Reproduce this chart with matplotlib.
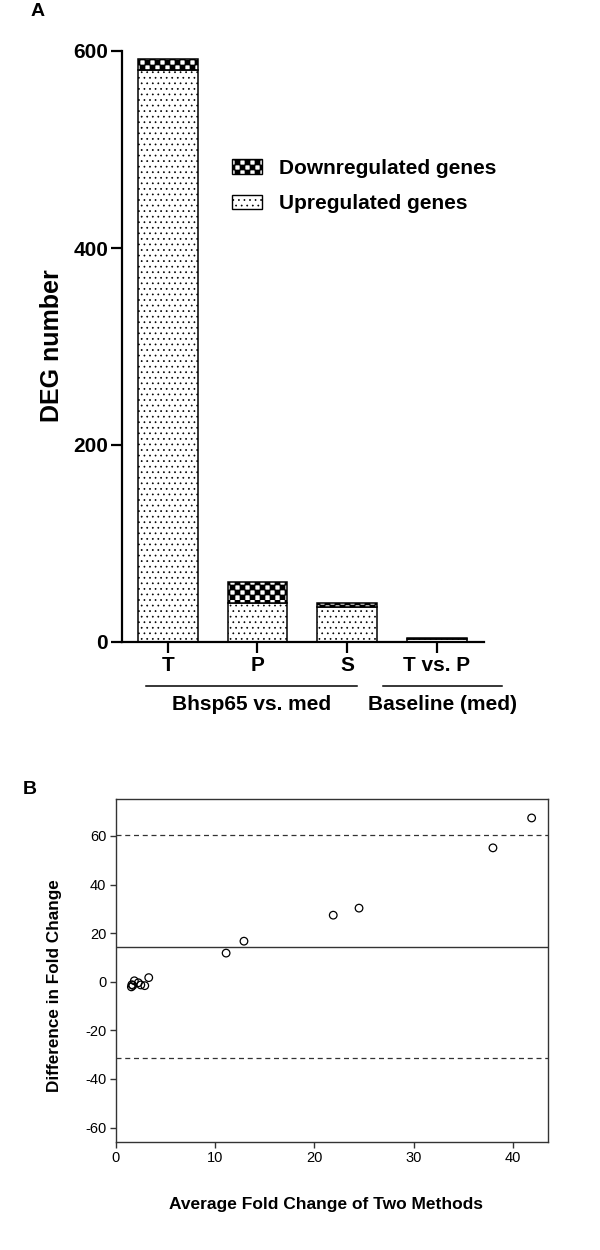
import matplotlib
matplotlib.use("Agg")
import matplotlib.pyplot as plt
import matplotlib.hatch as mhatch
from matplotlib.path import Path
from matplotlib.patches import Patch
from matplotlib.transforms import blended_transform_factory

# ---------------- data ----------------
categories = ["T", "P", "S", "T vs. P"]
upregulated = [581, 40, 36, 3]
downregulated = [11, 21, 4, 1]
group_labels = ["Bhsp65 vs. med", "Baseline (med)"]
panel_a_yticks = [0, 200, 400, 600]

avg_fold_change = [41.9, 38.0, 24.5, 21.9, 12.9, 11.1, 3.3, 1.85, 1.55, 1.6, 2.25, 2.5, 2.9, 1.7]
diff_fold_change = [67.4, 55.1, 30.3, 27.4, 16.7, 11.8, 1.7, 0.4, -2.1, -1.2, -0.4, -1.3, -1.6, -1.5]
mean_diff = 14.5
upper_loa = 60.4
lower_loa = -31.4
panel_b_xticks = [0, 10, 20, 30, 40]
panel_b_yticks = [-60, -40, -20, 0, 20, 40, 60]

# ---------------- custom checkerboard hatch ----------------
class CheckerHatch(mhatch.HatchPatternBase):
    def __init__(self, hatch, density):
        n = hatch.count('x') * 10
        self.n = n
        self.num_squares = sum(1 for i in range(n) for j in range(n) if (i + j) % 2 == 0)
        self.num_vertices = self.num_squares * 5

    def set_vertices_and_codes(self, vertices, codes):
        n = self.n
        s = 1.0 / n
        k = 0
        for i in range(n):
            for j in range(n):
                if (i + j) % 2 == 0:
                    x0, y0 = i * s, j * s
                    vertices[k:k + 5] = [(x0, y0), (x0 + s, y0), (x0 + s, y0 + s), (x0, y0 + s), (x0, y0)]
                    codes[k:k + 5] = [Path.MOVETO, Path.LINETO, Path.LINETO, Path.LINETO, Path.CLOSEPOLY]
                    k += 5


mhatch._hatch_types = [t for t in mhatch._hatch_types
                       if t not in (mhatch.NorthEastHatch, mhatch.SouthEastHatch)] + [CheckerHatch]

plt.rcParams['font.family'] = ['Liberation Sans', 'DejaVu Sans']
plt.rcParams['hatch.linewidth'] = 0.5
plt.rcParams['hatch.color'] = 'black'
plt.rcParams['axes.unicode_minus'] = False

W, H = 600, 1250
fig = plt.figure(figsize=(6, 12.5), dpi=100)

# ---------------- Panel A ----------------
axA = fig.add_axes([122 / W, 1 - 642 / H, (484 - 122) / W, (642 - 51) / H])
x = list(range(len(categories)))
bw = 0.666
axA.bar(x, upregulated, width=bw, color='white', edgecolor='black', linewidth=1.1,
        hatch='...', label='Upregulated genes', zorder=2)
axA.bar(x, downregulated, width=bw, bottom=upregulated, color='white', edgecolor='black',
        linewidth=1.1, hatch='xx', label='Downregulated genes', zorder=2)
axA.set_xlim(-0.512, 3.528)
axA.set_ylim(0, 600)
axA.set_yticks(panel_a_yticks)
axA.set_xticks(x)
axA.set_xticklabels(categories)
for sp in ['top', 'right']:
    axA.spines[sp].set_visible(False)
for sp in ['left', 'bottom']:
    axA.spines[sp].set_linewidth(1.6)
axA.tick_params(axis='both', direction='out', length=8, width=1.6, labelsize=15, pad=2)
for lab in axA.get_xticklabels() + axA.get_yticklabels():
    lab.set_fontweight('bold')

# group lines and labels
spans = [(-0.244, 2.11), (2.40, 3.73)]
trans = blended_transform_factory(axA.transData, axA.transAxes)
line_y = -(686 - 642) / (642 - 51)
text_y = -(705 - 642) / (642 - 51)
for (x0, x1), lab in zip(spans, group_labels):
    axA.plot([x0, x1], [line_y, line_y], color='black', lw=1.1, transform=trans, clip_on=False)
    axA.text((x0 + x1) / 2, text_y, lab, transform=trans, ha='center', va='center',
             fontsize=15, fontweight='bold')

fig.text(52 / W, 1 - 345.5 / H, 'DEG number', rotation=90, ha='center', va='center',
         fontsize=18, fontweight='bold')
fig.text(38 / W, 1 - 12 / H, 'A', ha='center', va='center', fontsize=14, fontweight='bold')

handles = [Patch(facecolor='white', edgecolor='black', hatch='xx', linewidth=1.0),
           Patch(facecolor='white', edgecolor='black', hatch='...', linewidth=1.0)]
fig.legend(handles, ['Downregulated genes', 'Upregulated genes'], loc='upper left',
           bbox_to_anchor=(232 / W, 1 - 159 / H), frameon=False, borderpad=0,
           borderaxespad=0, handlelength=1.45, handleheight=0.7, handletextpad=0.8,
           labelspacing=0.78, prop={'size': 15, 'weight': 'bold'})

# ---------------- Panel B ----------------
gray = '#333333'
axB = fig.add_axes([116 / W, 1 - 1141.7 / H, 432 / W, (1141.7 - 799) / H])
axB.scatter(avg_fold_change, diff_fold_change, s=30, facecolors='none', edgecolors='black',
            linewidths=0.9, zorder=3)
axB.axhline(mean_diff, color=gray, lw=1.0)
axB.axhline(upper_loa, color=gray, lw=0.9, ls=(0, (4, 3)))
axB.axhline(lower_loa, color=gray, lw=0.9, ls=(0, (4, 3)))
axB.set_xlim(0, 43.55)
axB.set_ylim(-65.8, 75.2)
axB.set_xticks(panel_b_xticks)
axB.set_yticks(panel_b_yticks)
for sp in axB.spines.values():
    sp.set_linewidth(1.0)
    sp.set_color(gray)
axB.tick_params(axis='both', direction='out', length=4, width=1.0, color=gray,
                labelsize=10.5, pad=3)

fig.text(55 / W, 1 - 986 / H, 'Difference in Fold Change', rotation=90, ha='center',
         va='center', fontsize=12.3, fontweight='bold')
fig.text(326 / W, 1 - 1205 / H, 'Average Fold Change of Two Methods', ha='center',
         va='center', fontsize=12.5, fontweight='bold')
fig.text(30 / W, 1 - 789 / H, 'B', ha='center', va='center', fontsize=14, fontweight='bold')

fig.savefig('out.png', dpi=100)
